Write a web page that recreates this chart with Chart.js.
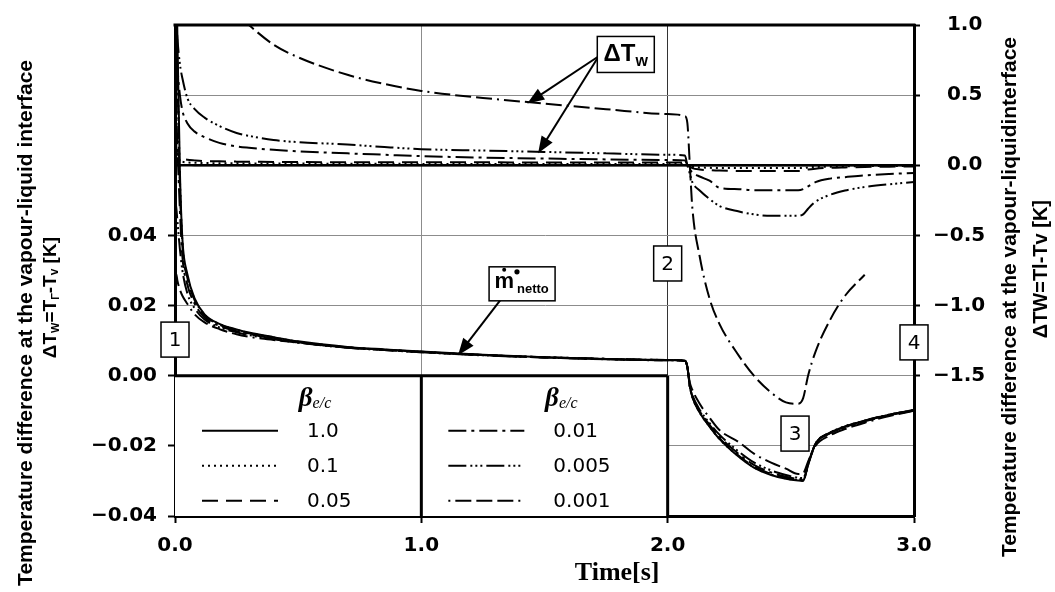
<!DOCTYPE html>
<html>
<head>
<meta charset="utf-8">
<script src="https://cdn.jsdelivr.net/npm/chart.js@4.4.1/dist/chart.umd.min.js"></script>
<style>
  html, body { margin: 0; padding: 0; background: #fff; }
</style>
</head>
<body>
<canvas id="chart" width="1055" height="592"></canvas>
<script>
// time grid [s]
const time = [0, 0.005, 0.01, 0.02, 0.03, 0.05, 0.08, 0.12, 0.18, 0.25, 0.3, 0.4, 0.5, 0.7, 0.85, 1.0, 1.25, 1.5, 1.75, 2.0,
  2.07, 2.08, 2.09, 2.1, 2.13, 2.17, 2.21, 2.29, 2.35, 2.42, 2.48, 2.53, 2.55, 2.57, 2.6, 2.66, 2.72, 2.8, 2.9, 3.0];

const betaLabels = ["1.0", "0.1", "0.05", "0.01", "0.005", "0.001"];

// ΔTw (right axis, K)
const dtw_b1 = [0.02, 0.01, 0.005, 0.003, 0.002, 0.002, 0.001, 0.001, 0, 0, 0, 0, 0, 0, 0, 0, 0, 0, 0, 0,
  0, 0, 0, 0, 0, 0, 0, 0, 0, 0, 0, 0, 0, 0, 0, 0, 0, 0, 0, 0];
const dtw_b01 = [1.2, 0.1, 0.05, 0.03, 0.025, 0.02, 0.018, 0.016, 0.015, 0.014, 0.013, 0.012, 0.012, 0.011, 0.011, 0.01, 0.01, 0.01, 0.01, 0.01,
  0.01, 0.0, -0.005, -0.01, -0.015, -0.018, -0.02, -0.02, -0.02, -0.02, -0.02, -0.02, -0.02, -0.015, -0.012, -0.01, -0.008, -0.006, -0.005, -0.004];
const dtw_b005 = [1.2, 0.15, 0.08, 0.055, 0.048, 0.04, 0.035, 0.03, 0.028, 0.026, 0.025, 0.024, 0.023, 0.022, 0.022, 0.021, 0.021, 0.02, 0.02, 0.02,
  0.02, 0.0, -0.01, -0.02, -0.03, -0.035, -0.038, -0.04, -0.04, -0.04, -0.04, -0.04, -0.038, -0.03, -0.024, -0.018, -0.015, -0.012, -0.01, -0.008];
const dtw_b001 = [1.2, 0.9, 0.7, 0.5, 0.39, 0.3, 0.24, 0.2, 0.16, 0.135, 0.125, 0.11, 0.1, 0.085, 0.075, 0.065, 0.055, 0.048, 0.042, 0.038,
  0.035, 0.0, -0.03, -0.05, -0.08, -0.11, -0.16, -0.17, -0.178, -0.178, -0.178, -0.178, -0.17, -0.15, -0.12, -0.095, -0.085, -0.072, -0.062, -0.055];
const dtw_b0005 = [1.2, 1.05, 0.9, 0.72, 0.62, 0.48, 0.4, 0.34, 0.28, 0.23, 0.21, 0.18, 0.165, 0.148, 0.13, 0.115, 0.105, 0.095, 0.085, 0.075,
  0.07, 0.0, -0.06, -0.12, -0.18, -0.24, -0.29, -0.33, -0.35, -0.36, -0.36, -0.36, -0.35, -0.31, -0.26, -0.21, -0.18, -0.155, -0.135, -0.12];
const dtw_b0001 = [null, null, null, null, null, null, null, null, null, 1.08, 1.0, 0.86, 0.77, 0.645, 0.58, 0.53, 0.48, 0.44, 0.40, 0.365,
  0.35, 0.3, 0.0, -0.3, -0.65, -0.95, -1.13, -1.36, -1.5, -1.62, -1.69, -1.70, -1.66, -1.5, -1.33, -1.1, -0.93, -0.78, null, null];

// m netto (left axis)
const mn_b1 = [0.12, 0.12, 0.095, 0.058, 0.039, 0.029, 0.022, 0.0175, 0.0148, 0.0132, 0.0123, 0.0110, 0.0098, 0.0082, 0.0075, 0.0069, 0.0060, 0.0053, 0.0048, 0.0045,
  0.0043, 0.0025, -0.003, -0.006, -0.0105, -0.0145, -0.0180, -0.0232, -0.0262, -0.0283, -0.0294, -0.0299, -0.0300, -0.0255, -0.0195, -0.0163, -0.0145, -0.0128, -0.0111, -0.0098];
const mn_b01 = [0.12, 0.11, 0.09, 0.056, 0.038, 0.0285, 0.0218, 0.0174, 0.0147, 0.0131, 0.0122, 0.0109, 0.0097, 0.0081, 0.0074, 0.0068, 0.0059, 0.0053, 0.0048, 0.0045,
  0.0043, 0.0025, -0.003, -0.006, -0.0105, -0.0145, -0.0180, -0.0231, -0.0261, -0.0282, -0.0293, -0.0298, -0.0299, -0.0254, -0.0194, -0.0162, -0.0144, -0.0128, -0.0111, -0.0098];
const mn_b005 = [0.12, 0.10, 0.085, 0.054, 0.037, 0.028, 0.0215, 0.0172, 0.0146, 0.0130, 0.0121, 0.0108, 0.0096, 0.0081, 0.0074, 0.0068, 0.0059, 0.0053, 0.0048, 0.0045,
  0.0043, 0.0025, -0.003, -0.006, -0.0104, -0.0144, -0.0178, -0.0229, -0.0259, -0.0280, -0.0291, -0.0297, -0.0298, -0.0253, -0.0194, -0.0162, -0.0145, -0.0128, -0.0111, -0.0098];
const mn_b001 = [0.08, 0.075, 0.065, 0.047, 0.034, 0.026, 0.0205, 0.0166, 0.0142, 0.0127, 0.0119, 0.0106, 0.0095, 0.0080, 0.0073, 0.0067, 0.0059, 0.0052, 0.0047, 0.0044,
  0.0043, 0.0025, -0.003, -0.0058, -0.0101, -0.0140, -0.0174, -0.0224, -0.0254, -0.0276, -0.0288, -0.0295, -0.0296, -0.0252, -0.0194, -0.0163, -0.0146, -0.0129, -0.0112, -0.0099];
const mn_b0005 = [0.05, 0.048, 0.044, 0.036, 0.030, 0.0235, 0.0192, 0.0160, 0.0138, 0.0124, 0.0116, 0.0104, 0.0094, 0.0080, 0.0073, 0.0067, 0.0058, 0.0052, 0.0047, 0.0044,
  0.0042, 0.0025, -0.003, -0.0055, -0.0097, -0.0135, -0.0168, -0.0217, -0.0247, -0.0270, -0.0283, -0.0291, -0.0292, -0.0250, -0.0196, -0.0164, -0.0147, -0.0130, -0.0113, -0.0099];
const mn_b0001 = [0.0, 0.029, 0.027, 0.0245, 0.0228, 0.0205, 0.0175, 0.0152, 0.0133, 0.0118, 0.0111, 0.0102, 0.0095, 0.0080, 0.0074, 0.0068, 0.0059, 0.0052, 0.0048, 0.0044,
  0.0042, 0.0025, -0.002, -0.004, -0.008, -0.012, -0.0155, -0.0190, -0.0222, -0.0248, -0.0265, -0.0280, -0.0278, -0.0245, -0.0200, -0.0170, -0.0152, -0.0134, -0.0115, -0.0100];

// numbered marks (time, left-axis value)
const markLabels = ["1", "2", "3", "4"];
const markTime = [0, 2.0, 2.517, 3.0];
const markValue = [0.0103, 0.032, -0.0165, 0.0095];

// line patterns per beta
const dashes = [[], [2, 4], [16, 8], [18, 5, 3, 5], [18, 4, 2, 3, 2, 3, 2, 4], [2, 5, 16, 5, 16, 5, 16, 5]];
const dtwSeries = [dtw_b1, dtw_b01, dtw_b005, dtw_b001, dtw_b0005, dtw_b0001];
const mnSeries = [mn_b1, mn_b01, mn_b005, mn_b001, mn_b0005, mn_b0001];

const SANS = '"Liberation Sans", Arial, sans-serif';
const WIDE = '"DejaVu Sans", Verdana, sans-serif';
const SERIF = '"Liberation Serif", "Times New Roman", serif';

function fmt(v, d) {
  if (Math.abs(v) < 1e-9) v = 0;
  return v.toFixed(d).replace("-", "\u2212");
}

function mkDataset(values, i, axis) {
  return {
    label: betaLabels[i],
    data: time.map((t, k) => ({ x: t, y: values[k] })),
    yAxisID: axis,
    borderColor: "#000",
    borderWidth: 2,
    borderDash: dashes[i],
    pointRadius: 0,
    fill: false,
    spanGaps: false,
    cubicInterpolationMode: "monotone"
  };
}

const datasets = [];
dtwSeries.forEach((s, i) => datasets.push(mkDataset(s, i, "y2")));
mnSeries.forEach((s, i) => datasets.push(mkDataset(s, i, "y")));

// draw text pieces in a row (for subscripts)
function runsWidth(ctx, runs) {
  let w = 0;
  runs.forEach(r => { ctx.font = r[1]; w += ctx.measureText(r[0]).width; });
  return w;
}
function drawRuns(ctx, runs, x, y, align) {
  const w = runsWidth(ctx, runs);
  let cx = align === "center" ? x - w / 2 : (align === "right" ? x - w : x);
  ctx.textAlign = "left";
  runs.forEach(r => {
    ctx.font = r[1];
    ctx.fillText(r[0], cx, y + (r[2] || 0));
    cx += ctx.measureText(r[0]).width;
  });
}

function arrow(ctx, x1, y1, x2, y2) {
  const a = Math.atan2(y2 - y1, x2 - x1), len = 17, half = 6.5;
  ctx.lineWidth = 2;
  ctx.beginPath();
  ctx.moveTo(x1, y1);
  ctx.lineTo(x2 - Math.cos(a) * len * 0.8, y2 - Math.sin(a) * len * 0.8);
  ctx.stroke();
  ctx.beginPath();
  ctx.moveTo(x2, y2);
  ctx.lineTo(x2 - len * Math.cos(a) + half * Math.sin(a), y2 - len * Math.sin(a) - half * Math.cos(a));
  ctx.lineTo(x2 - len * Math.cos(a) - half * Math.sin(a), y2 - len * Math.sin(a) + half * Math.cos(a));
  ctx.closePath();
  ctx.fill();
}

function box(ctx, cx, cy, w, h) {
  ctx.fillStyle = "#fff";
  ctx.fillRect(cx - w / 2, cy - h / 2, w, h);
  ctx.strokeStyle = "#000";
  ctx.lineWidth = 1.5;
  ctx.setLineDash([]);
  ctx.strokeRect(cx - w / 2, cy - h / 2, w, h);
  ctx.fillStyle = "#000";
}

function vText(ctx, text, font, x, yTop) {
  ctx.save();
  ctx.translate(x, yTop);
  ctx.rotate(-Math.PI / 2);
  ctx.font = font;
  ctx.textAlign = "right";
  ctx.textBaseline = "middle";
  ctx.fillText(text, 0, 0);
  ctx.restore();
}

const decorPlugin = {
  id: "decor",
  beforeDraw(chart) {
    const ctx = chart.ctx;
    ctx.save();
    ctx.fillStyle = "#fff";
    ctx.fillRect(0, 0, chart.width, chart.height);
    ctx.restore();
  },
  afterDatasetsDraw(chart) {
    const ctx = chart.ctx, a = chart.chartArea;
    const sx = chart.scales.x, sy = chart.scales.y, sy2 = chart.scales.y2;
    ctx.save();
    ctx.setLineDash([]);
    ctx.strokeStyle = "#000";
    ctx.fillStyle = "#000";

    // top frame
    ctx.lineWidth = 3;
    ctx.beginPath();
    ctx.moveTo(a.left - 1.5, a.top);
    ctx.lineTo(a.right + 1.5, a.top);
    ctx.stroke();

    // legend box
    const lx0 = sx.getPixelForValue(0), lx1 = sx.getPixelForValue(1), lx2 = sx.getPixelForValue(2);
    const ly0 = sy.getPixelForValue(0), ly1 = sy.getPixelForValue(-0.04);
    ctx.fillStyle = "#fff";
    ctx.fillRect(lx0, ly0, lx2 - lx0, ly1 - ly0);
    ctx.lineWidth = 3;
    ctx.beginPath();
    ctx.moveTo(lx0, ly0); ctx.lineTo(lx2, ly0);
    ctx.moveTo(lx1, ly0); ctx.lineTo(lx1, ly1);
    ctx.moveTo(lx2, ly0); ctx.lineTo(lx2, ly1);
    ctx.stroke();
    ctx.fillStyle = "#000";
    ctx.textBaseline = "middle";
    [lx0, lx1].forEach((colX, c) => {
      drawRuns(ctx, [["\u03b2", "italic bold 27px " + SERIF], ["e/c", "italic 16px " + SERIF, 5]], colX + 140, ly0 + 23, "center");
      for (let r = 0; r < 3; r++) {
        const i = c * 3 + r;
        const yy = ly0 + 55 + r * 35;
        ctx.lineWidth = 2;
        ctx.setLineDash(dashes[i]);
        ctx.beginPath();
        ctx.moveTo(colX + 27, yy);
        ctx.lineTo(colX + 103, yy);
        ctx.stroke();
        ctx.setLineDash([]);
        ctx.font = "20px " + WIDE;
        ctx.textAlign = "left";
        ctx.fillText(betaLabels[i], colX + 132, yy + 1);
      }
    });

    // numbered boxes
    markLabels.forEach((lab, i) => {
      const cx = sx.getPixelForValue(markTime[i]), cy = sy.getPixelForValue(markValue[i]);
      box(ctx, cx, cy, 28, 35);
      ctx.font = "20px " + WIDE;
      ctx.textAlign = "center";
      ctx.textBaseline = "middle";
      ctx.fillText(lab, cx, cy + 1);
    });

    // ΔTw label with arrows
    const tx = sx.getPixelForValue(1.72), ty = sy2.getPixelForValue(0.777);
    arrow(ctx, tx, ty, sx.getPixelForValue(1.43), sy2.getPixelForValue(0.44));
    arrow(ctx, tx, ty, sx.getPixelForValue(1.474), sy2.getPixelForValue(0.085));
    const bx = sx.getPixelForValue(1.83), by = sy2.getPixelForValue(0.79);
    box(ctx, bx, by, 57, 36);
    ctx.textBaseline = "middle";
    drawRuns(ctx, [["\u0394T", "bold 24px " + SANS], ["w", "bold 16px " + SANS, 7]], bx, by, "center");

    // m netto label with arrow
    arrow(ctx, sx.getPixelForValue(1.32), sy.getPixelForValue(0.0215), sx.getPixelForValue(1.149), sy.getPixelForValue(0.00586));
    const mx = sx.getPixelForValue(1.409), my = sy.getPixelForValue(0.0262);
    box(ctx, mx, my, 66, 34);
    ctx.textBaseline = "middle";
    ctx.font = "bold 22px " + SANS;
    const mw = ctx.measureText("m").width;
    ctx.font = "bold 13px " + SANS;
    const nw = ctx.measureText("netto").width;
    const startX = mx - (mw + 4 + nw) / 2;
    drawRuns(ctx, [["m", "bold 22px " + SANS]], startX, my - 2, "left");
    ctx.beginPath();
    ctx.arc(startX + mw / 2, my - 14, 2, 0, Math.PI * 2);
    ctx.fill();
    ctx.beginPath();
    ctx.arc(startX + mw + 3, my - 12, 2.6, 0, Math.PI * 2);
    ctx.fill();
    drawRuns(ctx, [["netto", "bold 13px " + SANS]], startX + mw + 3, my + 6, "left");

    ctx.restore();
  },
  afterDraw(chart) {
    const ctx = chart.ctx, sx = chart.scales.x;
    ctx.save();
    ctx.fillStyle = "#000";
    ctx.textBaseline = "middle";

    // x title
    ctx.font = "bold 26px " + SERIF;
    ctx.textAlign = "center";
    ctx.fillText("Time[s]", sx.getPixelForValue(1.795), 573);

    // left titles (text end at the top)
    vText(ctx, "Temperature difference at the vapour-liquid interface", "bold 21px " + SANS, 26, 60);
    ctx.save();
    ctx.translate(51, 237);
    ctx.rotate(-Math.PI / 2);
    ctx.textBaseline = "middle";
    drawRuns(ctx, [["\u0394T", "bold 19px " + SANS], ["W", "bold 11px " + SANS, 5], ["=T", "bold 19px " + SANS],
      ["\u0393", "bold 11px " + SANS, 5], ["-T", "bold 19px " + SANS], ["v", "bold 12px " + SANS, 4], [" [K]", "bold 19px " + SANS]], 0, 0, "right");
    ctx.restore();

    // right titles
    vText(ctx, "Temperature difference at the vapour-liquidinterface", "bold 21px " + SANS, 1010, 37);
    vText(ctx, "\u0394TW=Tl-Tv [K]", "bold 20px " + SANS, 1041, 200);

    ctx.restore();
  }
};

const tickFont = { family: WIDE, size: 20, weight: "bold" };

new Chart(document.getElementById("chart"), {
  type: "line",
  data: { datasets: datasets },
  options: {
    responsive: false,
    animation: false,
    events: [],
    layout: { padding: { top: 15, left: 0, right: 0, bottom: 0 } },
    plugins: { legend: { display: false }, tooltip: { enabled: false }, title: { display: false } },
    scales: {
      x: {
        type: "linear", min: 0, max: 3, position: "bottom",
        ticks: { stepSize: 1, callback: v => fmt(v, 1), color: "#000", font: tickFont, padding: 11, maxRotation: 0, autoSkip: false },
        grid: {
          color: c => c.tick && c.tick.value === 1 ? "#8c8c8c" : (c.tick && c.tick.value === 2 ? "#333" : "rgba(0,0,0,0)"),
          lineWidth: 1, tickLength: 7, tickColor: "#000", tickWidth: 2
        },
        border: { color: "#000", width: 3 },
        afterFit: s => { s.height = 76; }
      },
      y: {
        position: "left", min: -0.04, max: 0.1,
        ticks: { stepSize: 0.02, callback: v => v > 0.041 ? "" : fmt(v, 2), color: "#000", font: tickFont, padding: 11 },
        grid: {
          color: c => {
            const v = c.tick ? c.tick.value : 0;
            if (v > 0.099 || v < -0.039) return "rgba(0,0,0,0)";
            if (Math.abs(v - 0.06) < 1e-6) return "#000";
            return "#8c8c8c";
          },
          lineWidth: c => (c.tick && Math.abs(c.tick.value - 0.06) < 1e-6) ? 2.5 : 1,
          tickLength: 7, tickWidth: 2,
          tickColor: c => (c.tick && c.tick.value > 0.041) ? "rgba(0,0,0,0)" : "#000"
        },
        border: { color: "#000", width: 3 },
        afterFit: s => { s.width = 175; }
      },
      y2: {
        position: "right", min: -2.5, max: 1.0,
        ticks: {
          stepSize: 0.5, color: "#000", font: tickFont, padding: 13,
          callback: v => v < -1.51 ? "" : (v >= 0 ? "\u2007" : "") + fmt(v, 1)
        },
        grid: {
          drawOnChartArea: false, tickLength: 6, tickWidth: 2,
          tickColor: c => (c.tick && c.tick.value < -1.51) ? "rgba(0,0,0,0)" : "#000"
        },
        border: { color: "#000", width: 3 },
        afterFit: s => { s.width = 141; }
      }
    }
  },
  plugins: [decorPlugin]
});
</script>
</body>
</html>
